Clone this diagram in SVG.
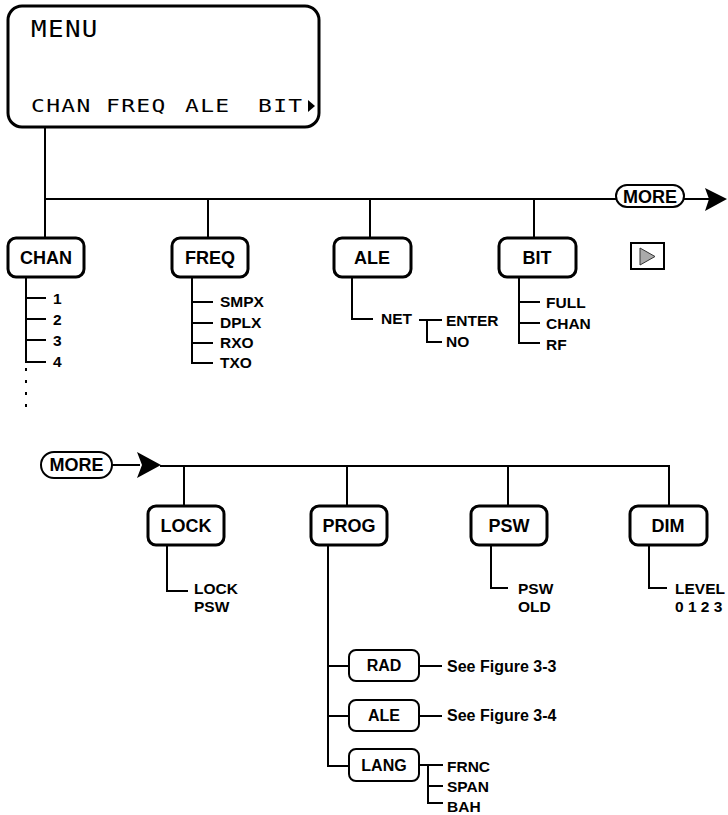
<svg xmlns="http://www.w3.org/2000/svg" width="728" height="815" viewBox="0 0 728 815">
<style>
.bg{fill:#fff}
.box{fill:#fff;stroke:#000;stroke-width:3}
.sub{fill:#fff;stroke:#000;stroke-width:2}
.pill{fill:#fff;stroke:#000;stroke-width:2}
.ln{fill:none;stroke:#000;stroke-width:2}
.dot{fill:none;stroke:#000;stroke-width:2;stroke-dasharray:3 9}
.lbl{font-family:"Liberation Sans",Arial,sans-serif;font-weight:bold;font-size:18px;text-anchor:middle;fill:#000}
.slbl{font-family:"Liberation Sans",Arial,sans-serif;font-weight:bold;font-size:16px;text-anchor:middle;fill:#000}
.ch{font-family:"Liberation Sans",Arial,sans-serif;font-weight:bold;font-size:15.5px;fill:#000}
.fig{font-family:"Liberation Sans",Arial,sans-serif;font-weight:bold;font-size:16px;fill:#000}
.lcd{font-family:"DejaVu Sans Mono","Liberation Mono",monospace;font-size:17px;letter-spacing:1px;fill:#000}
.lcdbig{font-family:"DejaVu Sans Mono","Liberation Mono",monospace;font-size:22.5px;letter-spacing:1.2px;fill:#000}
</style>
<rect class="bg" x="0" y="0" width="728" height="815"/>

<g id="connectors">
  <path class="ln" d="M45,128 V238 M45,199 H616 M684,199 H710"/>
  <path d="M705,188 L727,199 L705,211 L709,199 Z" fill="#000"/>
  <path class="ln" d="M208,199 V238 M370,199 V238 M534,199 V238"/>
  <path class="ln" d="M26,277 V362 H46 M26,298 H46 M26,319 H46 M26,340 H46"/>
  <path class="dot" d="M26,368 V409"/>
  <path class="ln" d="M192,277 V363 H213 M192,302 H213 M192,323 H213 M192,343 H213"/>
  <path class="ln" d="M352,277 V319 H373 M419,320 H442 M427,320 V342 H442"/>
  <path class="ln" d="M519,277 V343 H540 M519,302 H540 M519,323 H540"/>
  <path class="ln" d="M112,465 H140 M160,466 H669"/>
  <path d="M137,452 L161,465 L137,478 L142,465 Z" fill="#000"/>
  <path class="ln" d="M184,466 V506 M347,466 V506 M508,466 V506 M669,465 V506"/>
  <path class="ln" d="M167,545 V591 H188 M491,545 V588 H508 M649,545 V588 H667"/>
  <path class="ln" d="M328,545 V766 H349 M328,666 H349 M328,716 H349"/>
  <path class="ln" d="M419,666 H442 M419,716 H442"/>
  <path class="ln" d="M419,765 H443 M428,765 V803 H443 M428,786 H443"/>
</g>

<g id="menu">
  <rect class="box" x="8" y="6" width="311" height="121" rx="14"/>
  <text class="lcdbig" transform="translate(31,37) scale(1.15,1)">MENU</text>
  <text class="lcd" transform="translate(31,112) scale(1.35,1)">CHAN</text>
  <text class="lcd" transform="translate(106,112) scale(1.35,1)">FREQ</text>
  <text class="lcd" transform="translate(185,112) scale(1.35,1)">ALE</text>
  <text class="lcd" transform="translate(258,112) scale(1.35,1)">BIT</text>
  <path d="M308,100 L315,106 L308,112 Z" fill="#000"/>
</g>

<g id="more-top">
  <rect class="pill" x="616" y="185" width="68" height="22" rx="11"/>
  <text class="lbl" x="650" y="203">MORE</text>
</g>

<g id="next-icon">
  <rect x="631" y="243" width="33" height="26" fill="#fff" stroke="#000" stroke-width="2"/>
  <path d="M640,248 L655,256.5 L640,265 Z" fill="#aaa" stroke="#333" stroke-width="1"/>
</g>

<g id="chan">
  <rect class="box" x="8" y="238" width="76" height="39" rx="8"/>
  <text class="lbl" x="46" y="264">CHAN</text>
  <text class="ch" x="53" y="304">1</text>
  <text class="ch" x="53" y="325">2</text>
  <text class="ch" x="53" y="346">3</text>
  <text class="ch" x="53" y="367">4</text>
</g>

<g id="freq">
  <rect class="box" x="172" y="238" width="76" height="39" rx="8"/>
  <text class="lbl" x="210" y="264">FREQ</text>
  <text class="ch" x="220" y="307">SMPX</text>
  <text class="ch" x="220" y="328">DPLX</text>
  <text class="ch" x="220" y="348">RXO</text>
  <text class="ch" x="220" y="368">TXO</text>
</g>

<g id="ale">
  <rect class="box" x="334" y="238" width="77" height="39" rx="8"/>
  <text class="lbl" x="372" y="264">ALE</text>
  <text class="ch" x="381" y="324">NET</text>
  <text class="ch" x="446" y="326">ENTER</text>
  <text class="ch" x="446" y="347">NO</text>
</g>

<g id="bit">
  <rect class="box" x="499" y="238" width="77" height="39" rx="8"/>
  <text class="lbl" x="537" y="264">BIT</text>
  <text class="ch" x="546" y="308">FULL</text>
  <text class="ch" x="546" y="329">CHAN</text>
  <text class="ch" x="546" y="350">RF</text>
</g>

<g id="more-bottom">
  <rect class="pill" x="41" y="452" width="71" height="26" rx="13"/>
  <text class="lbl" x="76.5" y="471">MORE</text>
</g>

<g id="lock">
  <rect class="box" x="148" y="506" width="76" height="39" rx="8"/>
  <text class="lbl" x="186" y="532">LOCK</text>
  <text class="ch" x="194" y="594">LOCK</text>
  <text class="ch" x="194" y="612">PSW</text>
</g>

<g id="prog">
  <rect class="box" x="311" y="506" width="76" height="39" rx="8"/>
  <text class="lbl" x="349" y="532">PROG</text>
</g>

<g id="psw">
  <rect class="box" x="471" y="506" width="76" height="39" rx="8"/>
  <text class="lbl" x="509" y="532">PSW</text>
  <text class="ch" x="518" y="594">PSW</text>
  <text class="ch" x="518" y="612">OLD</text>
</g>

<g id="dim">
  <rect class="box" x="630" y="506" width="77" height="39" rx="8"/>
  <text class="lbl" x="668" y="532">DIM</text>
  <text class="ch" x="675" y="594">LEVEL</text>
  <text class="ch" x="675" y="612">0 1 2 3</text>
</g>

<g id="rad">
  <rect class="sub" x="349" y="650" width="70" height="31" rx="7"/>
  <text class="slbl" x="384" y="671">RAD</text>
  <text class="fig" x="447" y="672">See Figure 3-3</text>
</g>

<g id="prog-ale">
  <rect class="sub" x="349" y="700" width="70" height="31" rx="7"/>
  <text class="slbl" x="384" y="721">ALE</text>
  <text class="fig" x="447" y="721">See Figure 3-4</text>
</g>

<g id="lang">
  <rect class="sub" x="349" y="749" width="70" height="32" rx="7"/>
  <text class="slbl" x="384" y="771">LANG</text>
  <text class="ch" x="447" y="772">FRNC</text>
  <text class="ch" x="447" y="792">SPAN</text>
  <text class="ch" x="447" y="812">BAH</text>
</g>
</svg>
